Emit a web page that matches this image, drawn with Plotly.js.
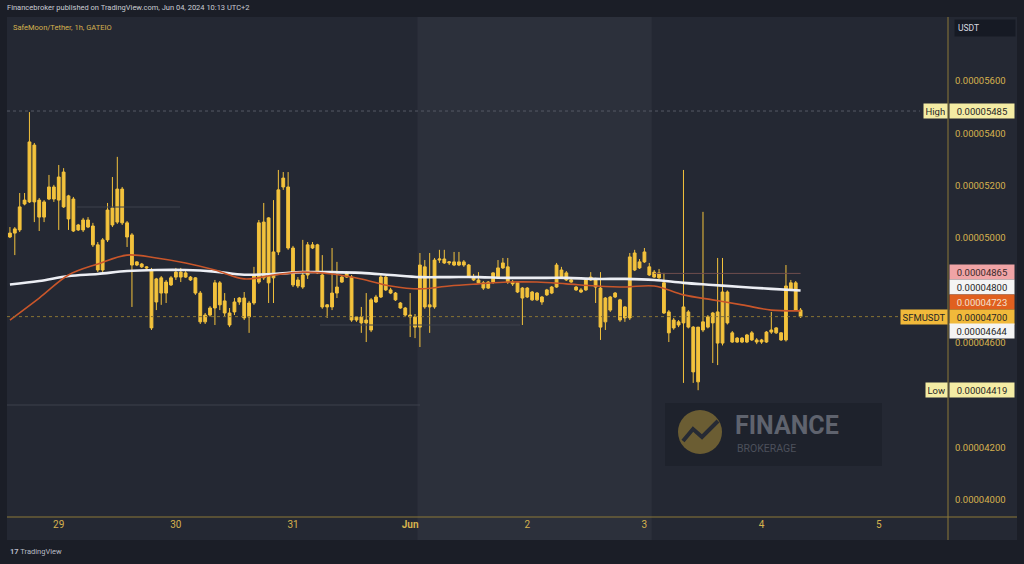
<!DOCTYPE html>
<html>
<head>
<meta charset="utf-8">
<script src="https://cdn.plot.ly/plotly-3.0.1.min.js"></script>
<style>
html,body{margin:0;padding:0;background:#1b1e27;}
#chart{width:1024px;height:564px;}
</style>
</head>
<body>
<div id="chart"></div>
<script>
// ---- Data (prices in units of 1e-8 USDT) ----
const startTime = '2024-05-28T14:00:00';
const open = [5004,5019,5031,5130,5138,5355,5145,5080,5149,5195,5145,5252,5161,5149,5031,5031,5069,5046,4974,4878,
4993,5115,5061,5187,5058,5012,4897,4901,4890,4878,4756,4848,4790,4821,4851,4870,4851,4851,4848,4790,
4680,4706,4733,4829,4760,4714,4718,4756,4771,4699,4752,4832,5061,4829,4848,4947,5195,5195,4962,4817,
4813,4859,4974,4974,4859,4737,4737,4790,4832,4851,4851,4687,4699,4676,4649,4756,4775,4851,4802,4790,
4752,4733,4706,4699,4660,4890,4737,4737,4916,4920,4905,4909,4897,4909,4897,4851,4840,4829,4809,4832,
4851,4886,4890,4832,4829,4809,4775,4794,4764,4775,4783,4790,4813,4878,4867,4840,4813,4802,4802,4840,
4840,4809,4680,4775,4775,4764,4695,4695,4878,4909,4909,4890,4870,4867,4829,4718,4657,4680,4676,4718,
4660,4451,4649,4660,4714,4599,4599,4794,4638,4603,4618,4603,4611,4611,4603,4603,4641,4638,4638,4611,
4829,4829,4725];
const high = [5042,5042,5172,5172,5481,5363,5153,5145,5241,5203,5279,5267,5165,5157,5054,5077,5080,5058,4985,5000,
5134,5233,5310,5195,5065,5019,4912,4905,4893,4886,4848,4855,4840,4855,4886,4886,4874,4855,4851,4798,
4714,4740,4840,4836,4790,4733,4771,4775,4794,4760,4890,5069,5134,5080,5145,5260,5252,5252,4970,4851,
4993,4985,4985,4978,4935,4748,4962,4909,4859,4874,4859,4702,4737,4790,4771,4783,4859,4855,4810,4794,
4756,4737,4790,4710,4943,4916,4943,4924,4955,4955,4912,4947,4947,4916,4901,4863,4870,4836,4836,4870,
4916,4924,4924,4840,4832,4813,4813,4798,4794,4779,4806,4817,4905,4890,4874,4848,4817,4809,4844,4870,
4848,4870,4775,4779,4794,4768,4740,4943,4955,4920,4962,4905,4878,4882,4867,4725,4695,4687,5260,4725,
4664,4660,5100,4706,4718,4924,4924,4800,4645,4622,4622,4634,4645,4618,4615,4645,4718,4660,4641,4897,
4840,4836,4733];
const low = [5000,4935,5023,5125,5134,5061,5027,5061,5145,5138,5031,5115,5031,5023,5027,5023,5038,4966,4870,4870,
4985,5042,5054,5050,4966,4737,4893,4886,4882,4649,4725,4745,4752,4817,4840,4832,4848,4836,4783,4672,
4672,4700,4668,4725,4702,4660,4706,4745,4687,4638,4745,4825,4840,4752,4752,4935,5184,4955,4813,4809,
4806,4844,4958,4863,4730,4695,4725,4771,4829,4848,4680,4680,4638,4603,4641,4752,4771,4798,4786,4760,
4730,4702,4622,4618,4584,4730,4638,4730,4905,4901,4897,4893,4893,4890,4848,4836,4825,4802,4806,4825,
4844,4882,4825,4817,4790,4668,4771,4760,4760,4745,4779,4786,4810,4848,4836,4829,4798,4790,4798,4836,
4752,4611,4649,4718,4771,4680,4680,4687,4874,4882,4905,4855,4848,4844,4710,4603,4650,4660,4447,4655,
4447,4419,4641,4655,4523,4515,4590,4670,4600,4600,4599,4599,4607,4595,4596,4600,4634,4634,4607,4605,
4798,4722,4695];
const close = [5019,5035,5119,5145,5367,5138,5080,5138,5195,5149,5233,5119,5073,5027,5050,5069,5042,4974,4878,4993,
5107,5050,5187,5058,5004,4897,4909,4890,4886,4657,4844,4790,4832,4848,4870,4851,4867,4840,4790,4680,
4706,4733,4829,4745,4714,4668,4756,4771,4695,4752,4859,5058,4848,5077,4947,5184,5229,4962,4821,4840,
4859,4974,4962,4867,4737,4745,4790,4813,4851,4867,4687,4699,4676,4687,4764,4775,4851,4802,4790,4764,
4733,4706,4699,4660,4897,4737,4745,4916,4920,4905,4909,4897,4909,4897,4851,4840,4829,4809,4832,4867,
4886,4905,4832,4825,4794,4771,4809,4764,4790,4756,4802,4813,4897,4851,4840,4832,4802,4794,4840,4851,
4813,4660,4771,4725,4790,4687,4737,4928,4943,4886,4947,4859,4851,4848,4714,4638,4687,4668,4737,4660,
4489,4660,4680,4699,4676,4718,4794,4676,4603,4618,4603,4630,4638,4603,4611,4641,4649,4657,4611,4817,
4802,4725,4700];

// moving averages, read every 6th hourly candle
const maStep = 6;
const ma200 = [4823,4836,4855,4863,4874,4878,4878,4872,4860,4863,4870,4870,4867,4859,4851,4851,4851,4848,4848,4848,4844,4844,4840,4829,4821,4813,4806,4800];
const ema50 = [4687,4771,4859,4901,4935,4924,4905,4878,4844,4859,4870,4863,4844,4817,4806,4817,4825,4832,4832,4825,4817,4813,4817,4783,4764,4745,4725,4722];

// axis ticks
const dayTicks = ['2024-05-29','2024-05-30','2024-05-31','2024-06-01','2024-06-02','2024-06-03','2024-06-04','2024-06-05'];
const dayLabels = ['29','30','31','<b>Jun</b>','2','3','4','5'];
const priceTicks = [4000,4200,4600,5000,5200,5400,5600];
const priceTickText = ['0.00004000','0.00004200','0.00004600','0.00005000','0.00005200','0.00005400','0.00005600'];

// price labels on the right scale
const labelPrices = [5485,4865,4800,4723,4700,4644,4419];
const labelTexts = ['0.00005485','0.00004865','0.00004800','0.00004723','0.00004700','0.00004644','0.00004419'];
const labelShift = [0,1.5,3.5,9,0,0,0];
const labelBg = ['#f4eca4','#f0a4a6','#f4f4f4','#e0601f','#f1b93a','#f4f4f4','#f4eca4'];
const labelFg = ['#262626','#3a2a2a','#262626','#f3e0d0','#262626','#262626','#262626'];
const sideLabels = [{p:5485,t:'High',bg:'#f4eca4'},{p:4700,t:'SFMUSDT',bg:'#f1b93a'},{p:4419,t:'Low',bg:'#f4eca4'}];

// reference levels
const highLevel = 5485;
const lastPrice = 4700;
const prevLevel = 4865;
const prevLevelStart = '2024-06-03 02:00';
const weekendStart = '2024-06-01T01:30:00';
const weekendEnd = '2024-06-03T01:30:00';

// ---- build ----
const t0 = new Date(startTime + 'Z').getTime();
function ts(ms){ return new Date(ms).toISOString().slice(0,19).replace('T',' '); }
const times = open.map((_, i) => ts(t0 + i*3600000));
const maTimes = ma200.map((_, k) => times[k*maStep]);

const gold = '#f3c23c';
const candle = {
  type:'candlestick', x:times, open:open, high:high, low:low, close:close,
  increasing:{line:{color:gold,width:1}, fillcolor:gold},
  decreasing:{line:{color:gold,width:1}, fillcolor:gold},
  whiskerwidth:0, hoverinfo:'skip', showlegend:false
};
const maTrace = {type:'scatter', mode:'lines', x:maTimes, y:ma200,
  line:{color:'#eceef4', width:2.6, shape:'spline', smoothing:1}, hoverinfo:'skip', showlegend:false};
const emaTrace = {type:'scatter', mode:'lines', x:maTimes, y:ema50,
  line:{color:'#c9562a', width:1.6, shape:'spline', smoothing:1}, hoverinfo:'skip', showlegend:false};

const W = 941, H = 500; // plot px
const px = X => (X-7)/W;
const py = Y => (517-Y)/H;

const shapes = [
  {type:'rect', xref:'paper', yref:'paper', x0:px(7), x1:px(1017), y0:py(540), y1:1, fillcolor:'#242833', line:{width:0}, layer:'below'},
  {type:'rect', xref:'x', yref:'paper', x0:weekendStart, x1:weekendEnd, y0:py(540), y1:1, fillcolor:'#2c303b', line:{width:0}, layer:'below'},
  // watermark panel
  {type:'rect', xref:'paper', yref:'paper', x0:px(665), x1:px(882), y0:py(466), y1:py(403), fillcolor:'rgba(24,27,35,0.45)', line:{width:0}, layer:'below'},
  {type:'circle', xref:'paper', yref:'paper', x0:px(678), x1:px(722), y0:py(454), y1:py(410), fillcolor:'#6b5d33', line:{width:0}, layer:'below'},
  {type:'path', xref:'paper', yref:'paper', path:`M ${px(683)},${py(441)} L ${px(693)},${py(429)} L ${px(702)},${py(437)} L ${px(718)},${py(421)}`, line:{color:'#262a34', width:4}, layer:'below'},
  // level lines
  {type:'line', xref:'paper', yref:'y', x0:0, x1:px(920), y0:highLevel, y1:highLevel, line:{color:'#565a66', width:1, dash:'dot'}},
  {type:'line', xref:'paper', yref:'y', x0:0, x1:1, y0:lastPrice, y1:lastPrice, line:{color:'#8a7434', width:1, dash:'dot'}},
  {type:'line', xref:'x', yref:'y', x0:prevLevelStart, x1:times[times.length-1], y0:prevLevel, y1:prevLevel, line:{color:'#6e4e4e', width:1}},
  {type:'line', xref:'paper', yref:'paper', x0:0, x1:px(420), y0:py(405), y1:py(405), line:{color:'#3d414c', width:1}},
  {type:'line', xref:'paper', yref:'paper', x0:px(77), x1:px(180), y0:py(207), y1:py(207), line:{color:'#3d414c', width:1}},
  {type:'line', xref:'paper', yref:'paper', x0:px(320), x1:px(520), y0:py(325), y1:py(325), line:{color:'#3d414c', width:1}},
  // axis lines
  {type:'line', xref:'paper', yref:'paper', x0:0, x1:px(1017), y0:0, y1:0, line:{color:'#8c7838', width:1}},
  {type:'line', xref:'paper', yref:'paper', x0:1, x1:1, y0:py(540), y1:1, line:{color:'#8c7838', width:1}}
];

const annotations = [
  {xref:'paper', yref:'paper', x:px(5), y:py(8), xanchor:'left', yanchor:'middle', showarrow:false,
   text:'Financebroker published on TradingView.com, Jun 04, 2024 10:13 UTC+2', font:{family:'Roboto', size:7.5, color:'#c9ccd4'}},
  {xref:'paper', yref:'paper', x:px(11), y:py(27), xanchor:'left', yanchor:'middle', showarrow:false,
   text:'SafeMoon/Tether, 1h, GATEIO', font:{family:'Roboto', size:7.5, color:'#d6b24e'}},
  {xref:'paper', yref:'paper', x:px(954), y:py(28), xanchor:'left', yanchor:'middle', showarrow:false,
   text:'USDT', bgcolor:'#161a24', width:54, align:'left', borderpad:3, font:{family:'Roboto', size:8.5, color:'#d8dae0'}},
  {xref:'paper', yref:'paper', x:px(8), y:py(551), xanchor:'left', yanchor:'middle', showarrow:false,
   text:'<b>17</b> TradingView', font:{family:'Roboto', size:7.5, color:'#b8bcc6'}},
  {xref:'paper', yref:'paper', x:px(733), y:py(425), xanchor:'left', yanchor:'middle', showarrow:false,
   text:'<b>FINANCE</b>', font:{family:'Roboto', size:25, color:'#5f636e'}},
  {xref:'paper', yref:'paper', x:px(735), y:py(448), xanchor:'left', yanchor:'middle', showarrow:false,
   text:'BROKERAGE', font:{family:'Roboto', size:10.5, color:'#4c505b'}}
];
labelPrices.forEach((p, k) => {
  annotations.push({xref:'paper', yref:'y', x:1, y:p, xanchor:'left', yanchor:'middle', xshift:1, yshift:labelShift[k],
    showarrow:false, text:labelTexts[k], bgcolor:labelBg[k], width:61, height:11, borderpad:1.5, align:'center',
    font:{family:'Roboto', size:9.5, color:labelFg[k]}});
});
sideLabels.forEach(s => {
  annotations.push({xref:'paper', yref:'y', x:1, y:s.p, xanchor:'right', yanchor:'middle', xshift:0,
    showarrow:false, text:s.t, bgcolor:s.bg, height:11, borderpad:1.5,
    font:{family:'Roboto', size:9.5, color:'#262626'}});
});

const layout = {
  width:1024, height:564,
  margin:{l:7, r:76, t:17, b:47},
  paper_bgcolor:'#1b1e27', plot_bgcolor:'rgba(0,0,0,0)',
  showlegend:false, hovermode:false, boxgap:0.18,
  xaxis:{type:'date', range:['2024-05-28 13:24','2024-06-05 14:12'], tickvals:dayTicks, ticktext:dayLabels,
    showgrid:false, zeroline:false, showline:false, ticks:'', rangeslider:{visible:false},
    tickfont:{family:'Roboto', size:10, color:'#d6b24e'}},
  yaxis:{side:'right', range:[3935, 5844], tickvals:priceTicks, ticktext:priceTickText,
    showgrid:false, zeroline:false, showline:false, ticks:'', ticklabelstandoff:6,
    tickfont:{family:'Roboto', size:9.5, color:'#d6b24e'}},
  shapes:shapes, annotations:annotations
};

Plotly.newPlot('chart', [candle, maTrace, emaTrace], layout, {staticPlot:true, displayModeBar:false});
</script>
</body>
</html>
